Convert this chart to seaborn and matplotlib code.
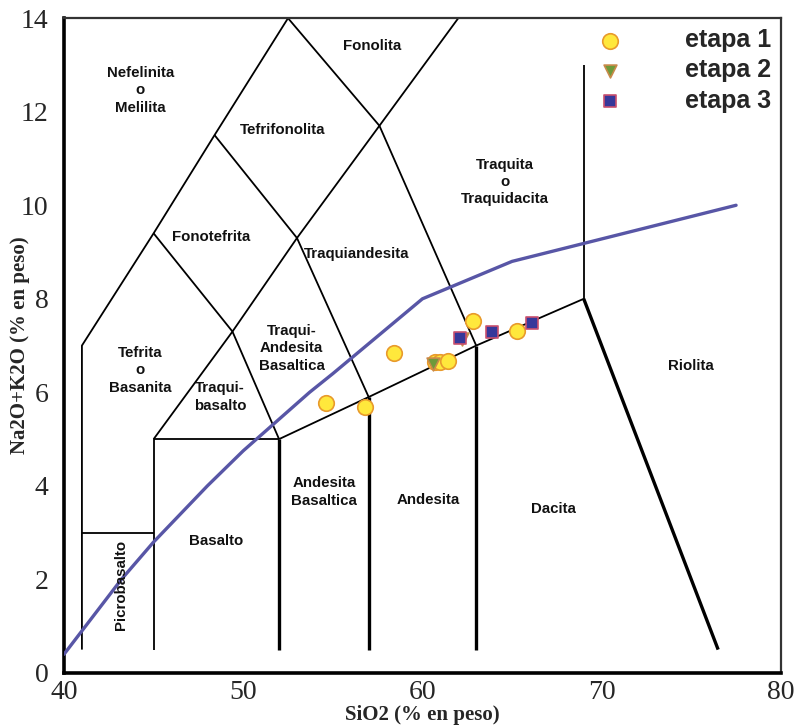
import matplotlib
matplotlib.use("Agg")
import matplotlib.pyplot as plt
import seaborn as sns
import pandas as pd
from matplotlib.ticker import MultipleLocator

# ---- data ----
etapa1_sio2 = [54.6, 56.8, 58.4, 60.7, 61.0, 61.4, 62.8, 65.3]
etapa1_alk = [5.77, 5.68, 6.84, 6.65, 6.65, 6.67, 7.52, 7.31]
etapa2_sio2 = [60.6, 62.2]
etapa2_alk = [6.60, 7.14]
etapa3_sio2 = [62.1, 63.9, 66.1]
etapa3_alk = [7.16, 7.29, 7.48]
series_names = ["etapa 1", "etapa 2", "etapa 3"]

# alkaline / subalkaline divider (Irvine & Baragar)
divider_sio2 = [40, 43.2, 45, 48, 50, 53.7, 55, 60, 65, 77.5]
divider_alk = [0.4, 2.0, 2.8, 4.0, 4.75, 6.0, 6.4, 8.0, 8.8, 10.0]

# TAS field boundaries (thin)
thin_bounds = [
    [(41, 0.5), (41, 7), (45, 9.4), (48.4, 11.5), (52.5, 14)],
    [(41, 3), (45, 3)],
    [(45, 0.5), (45, 5), (52, 5)],
    [(45, 5), (49.4, 7.3), (52, 5)],
    [(45, 9.4), (49.4, 7.3), (53, 9.3), (57.6, 11.7), (62, 14)],
    [(48.4, 11.5), (53, 9.3), (57, 5.9)],
    [(52.5, 14), (57.6, 11.7), (63, 7)],
    [(52, 5), (57, 5.9), (63, 7), (69, 8)],
    [(69, 8), (69, 13)],
]
thick_bounds = [
    [(52, 0.5), (52, 5)],
    [(57, 0.5), (57, 5.9)],
    [(63, 0.5), (63, 7)],
    [(69, 8), (76.5, 0.5)],
]

field_labels = [
    ("Nefelinita\no\nMelilita", 44.25, 12.46, 0),
    ("Fonolita", 57.2, 13.4, 0),
    ("Tefrifonolita", 52.2, 11.6, 0),
    ("Fonotefrita", 48.2, 9.32, 0),
    ("Traquiandesita", 56.3, 8.95, 0),
    ("Traquita\no\nTraquidacita", 64.6, 10.5, 0),
    ("Tefrita\no\nBasanita", 44.25, 6.47, 0),
    ("Traqui-\nAndesita\nBasaltica", 52.7, 6.94, 0),
    ("Traqui-\nbasalto", 48.7, 5.9, 0),
    ("Basalto", 48.5, 2.82, 0),
    ("Andesita\nBasaltica", 54.5, 3.87, 0),
    ("Andesita", 60.3, 3.7, 0),
    ("Dacita", 67.3, 3.5, 0),
    ("Riolita", 75.0, 6.56, 0),
    ("Picrobasalto", 43.2, 1.88, 90),
]

x_ticks = [40, 50, 60, 70, 80]
y_ticks = [0, 2, 4, 6, 8, 10, 12, 14]

df = pd.DataFrame({
    "sio2": etapa1_sio2 + etapa2_sio2 + etapa3_sio2,
    "alk": etapa1_alk + etapa2_alk + etapa3_alk,
    "etapa": [series_names[0]] * len(etapa1_sio2)
    + [series_names[1]] * len(etapa2_sio2)
    + [series_names[2]] * len(etapa3_sio2),
})

sns.set_theme(style="white")
plt.rcParams["font.family"] = ["Liberation Sans", "DejaVu Sans"]

fig = plt.figure(figsize=(7.96, 7.27), dpi=100)
ax = fig.add_axes([0.0804, 0.0743, 0.9006, 0.9007])

# boundaries
for seg in thin_bounds:
    xs, ys = zip(*seg)
    ax.plot(xs, ys, color="black", lw=1.3, zorder=2, solid_capstyle="butt")
for seg in thick_bounds:
    xs, ys = zip(*seg)
    ax.plot(xs, ys, color="black", lw=2.4, zorder=2, solid_capstyle="butt")

# divider line
sns.lineplot(x=divider_sio2, y=divider_alk, sort=False, estimator=None,
             color="#5856a6", lw=2.4, ax=ax, zorder=3)

# field labels
for txt, x, y, rot in field_labels:
    ax.text(x, y, txt, ha="center", va="center", fontsize=10.8,
            fontweight="bold", rotation=rot, color="#111111",
            linespacing=1.3, zorder=4)

styles = {
    "etapa 1": dict(marker="o", color="#ffe83c", edge="#e89a2c", s=125),
    "etapa 2": dict(marker="v", color="#6e9a3a", edge="#c98a4a", s=85),
    "etapa 3": dict(marker="s", color="#36389a", edge="#c9506e", s=85),
}
for name in series_names:
    st = styles[name]
    sub = df[df["etapa"] == name]
    sns.scatterplot(data=sub, x="sio2", y="alk", marker=st["marker"],
                    color=st["color"], edgecolor=st["edge"], linewidth=1.2,
                    s=st["s"], label=name, ax=ax, zorder=5)

leg = ax.legend(loc="upper right", bbox_to_anchor=(1.0, 1.0), frameon=False,
                prop=dict(family="Liberation Sans", weight="bold", size=18),
                handlelength=1.0, handletextpad=2.5, labelspacing=0.25,
                borderaxespad=0.0)

ax.set_xlim(40, 80)
ax.set_ylim(0, 14)
ax.set_xticks(x_ticks)
ax.set_yticks(y_ticks)
ax.xaxis.set_minor_locator(MultipleLocator(2))
ax.yaxis.set_minor_locator(MultipleLocator(0.5))
ax.tick_params(axis="both", which="major", direction="in", length=12,
               width=0.8, color="#888888", labelsize=20)
ax.tick_params(axis="both", which="minor", direction="in", length=6,
               width=0.8, color="#888888")
ax.tick_params(axis="x", which="major", pad=5)
ax.tick_params(axis="y", which="major", pad=11)
for lab in ax.get_xticklabels() + ax.get_yticklabels():
    lab.set_family("Liberation Serif")

ax.set_xlabel("SiO2 (% en peso)", family="Liberation Serif", fontweight="bold",
              fontsize=15, labelpad=0)
ax.set_ylabel("Na2O+K2O (% en peso)", family="Liberation Serif",
              fontweight="bold", fontsize=15)
ax.yaxis.set_label_coords(-0.047, 0.5)

for side in ["left", "bottom"]:
    ax.spines[side].set_linewidth(2.6)
    ax.spines[side].set_color("black")
for side in ["top", "right"]:
    ax.spines[side].set_linewidth(1.6)
    ax.spines[side].set_color("#333333")

fig.savefig("out.png", dpi=100)
